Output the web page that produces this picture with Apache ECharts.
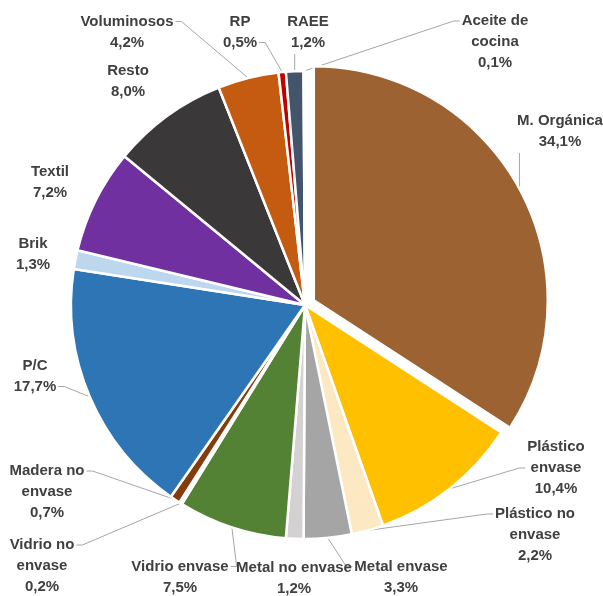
<!DOCTYPE html>
<html><head><meta charset="utf-8">
<script src="https://cdn.jsdelivr.net/npm/echarts@6/dist/echarts.min.js"></script>
<style>html,body{margin:0;padding:0;background:#fff}#c{width:603px;height:596px}</style>
</head><body><div id="c"></div>
<script>
// ---- data ----
var categories = ["M. Orgánica","Plástico\nenvase","Plástico no\nenvase","Metal envase","Metal no envase","Vidrio envase","Vidrio no\nenvase","Madera no\nenvase","P/C","Brik","Textil","Resto","Voluminosos","RP","RAEE","Aceite de\ncocina"];
var values = [34.1,10.4,2.2,3.3,1.2,7.5,0.2,0.7,17.7,1.3,7.2,8.0,4.2,0.5,1.2,0.1];

// ---- styles / label placement (not data) ----
var colors = ["#9C6232","#FFC000","#FDE8C4","#A5A5A5","#D3D1D1","#548235","#E6F0D2","#843C0C","#2E75B6","#BDD7EE","#7030A0","#3A3838","#C55A11","#C00000","#44546A","#DCEB9E"];
var labelCenters = [[560,131],[556,468],[535,535],[401,577],[294,578],[180,577],[42,566],[47,492],[35,376],[33,254],[50,182],[128,81],[127,32],[240,32],[308,32],[495,42]];
var showLine = [true,true,true,true,false,true,true,true,true,false,false,false,true,true,true,true];
var attachRow = [1,1,0,0,0,0,0,0,1,0,0,0,0,1,1,0];
var explodeIndex = 0, explodeDist = 10;
var CX = 305, CY = 305, R = 234, LH = 21;

var total = values.reduce(function(a,b){return a+b;},0);
var before = 0; for(var k=0;k<explodeIndex;k++) before += values[k];
var midAng = (before + values[explodeIndex]/2)/total*2*Math.PI;
var exCenter = [CX + explodeDist*Math.sin(midAng), CY - explodeDist*Math.cos(midAng)];

function makeData(forExploded){
  return categories.map(function(n,i){
    var visible = forExploded ? (i===explodeIndex) : (i!==explodeIndex);
    var d = {name:n, value:values[i], itemStyle:{color:colors[i]}};
    if(!visible){
      d.itemStyle = {color:'rgba(0,0,0,0)', borderWidth:0};
      d.label = {show:false};
      d.labelLine = {show:false};
    }
    return d;
  });
}

function layoutFn(p){
  var i = p.dataIndex;
  var c = labelCenters[i];
  var w = p.labelRect.width, h = p.labelRect.height;
  var res = {x:c[0], y:c[1], align:'center', verticalAlign:'middle'};
  if(!showLine[i] || !p.labelLinePoints){ res.labelLinePoints = [[c[0],c[1]],[c[0],c[1]],[c[0],c[1]]]; return res; }
  var s = p.labelLinePoints[0];
  var left = c[0]-w/2, right = c[0]+w/2, top = c[1]-h/2, bottom = c[1]+h/2;
  var rowY = top + LH/2 + attachRow[i]*LH;
  var end, stub;
  if(s[0] > right){
    end = [right+2, rowY]; stub = [end[0]+6, end[1]];
  } else if(s[0] < left){
    end = [left-2, rowY]; stub = [end[0]-6, end[1]];
  } else if(s[1] < top){
    end = [s[0], top-1]; stub = [s[0], top-4];
  } else {
    end = [s[0], bottom+1]; stub = [s[0], bottom+4];
  }
  res.labelLinePoints = [s, stub, end];
  return res;
}

var labelCfg = {
  show:true,
  position:'outside',
  formatter:function(p){return p.name+'\n'+p.value.toFixed(1).replace('.',',')+'%';},
  fontFamily:'"Liberation Sans", Arial, sans-serif',
  fontWeight:'bold',
  fontSize:15,
  lineHeight:LH,
  color:'#404040',
  align:'center'
};
var lineCfg = {show:true,length:14,length2:10,lineStyle:{color:'#A6A6A6',width:1}};

var chart = echarts.init(document.getElementById('c'));
chart.setOption({
  animation:false,
  series:[{
    type:'pie', center:[CX,CY], radius:[0,R], startAngle:90, clockwise:true,
    avoidLabelOverlap:false, data:makeData(false),
    itemStyle:{borderColor:'#fff',borderWidth:2.5},
    label:labelCfg, labelLine:lineCfg, labelLayout:layoutFn,
    emphasis:{disabled:true}
  },{
    type:'pie', center:exCenter, radius:[0,R], startAngle:90, clockwise:true,
    avoidLabelOverlap:false, data:makeData(true),
    itemStyle:{borderColor:'#fff',borderWidth:2.5},
    label:labelCfg, labelLine:lineCfg, labelLayout:layoutFn,
    emphasis:{disabled:true}
  }]
});
</script></body></html>
